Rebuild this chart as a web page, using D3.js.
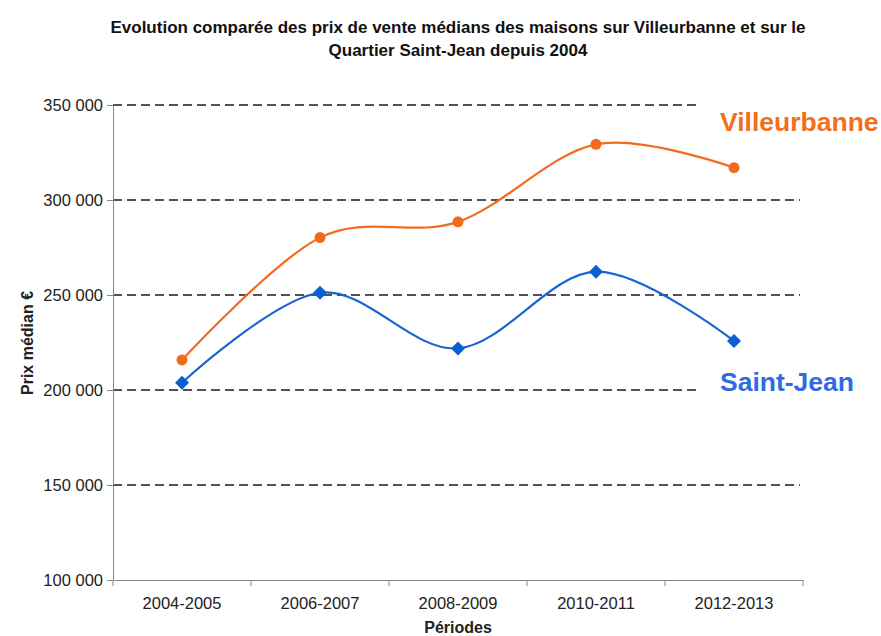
<!DOCTYPE html>
<html>
<head>
<meta charset="utf-8">
<script src="https://cdn.jsdelivr.net/npm/d3@7"></script>
<style>
  html, body { margin: 0; padding: 0; background: #fff; }
  svg { display: block; font-family: "Liberation Sans", Arial, sans-serif; }
</style>
</head>
<body>
<svg id="chart" width="881" height="636"></svg>
<script>
// Périodes (axe des abscisses)
const periods = ["2004-2005", "2006-2007", "2008-2009", "2010-2011", "2012-2013"];
// Prix de vente médians des maisons (€)
const villeurbanne = [215800, 280200, 288500, 329300, 317000];
const saintJean = [203800, 251200, 221900, 262300, 225800];
// Graduations de l'axe des ordonnées
const yTicks = [100000, 150000, 200000, 250000, 300000, 350000];

const svg = d3.select("#chart");
const margin = { left: 113, right: 78, top: 105, bottom: 56 };
const W = 881, H = 636;
const FONT = "'Liberation Sans', Arial, sans-serif";

const x = d3.scaleBand().domain(periods).range([margin.left, W - margin.right]);
const y = d3.scaleLinear().domain([100000, 350000]).range([H - margin.bottom, margin.top]);
const cx = d => x(d) + x.bandwidth() / 2;

const fmt = v => d3.format(",")(v).replace(/,/g, " ");

// Titre
const title = svg.append("text")
  .attr("x", 458).attr("y", 33)
  .attr("text-anchor", "middle")
  .attr("font-size", 17).attr("font-weight", "bold").attr("fill", "#111");
title.append("tspan").attr("x", 458).text("Evolution comparée des prix de vente médians des maisons sur Villeurbanne et sur le");
title.append("tspan").attr("x", 458).attr("dy", 23).text("Quartier Saint-Jean depuis 2004");

// Lignes de quadrillage pointillées
svg.append("g")
  .selectAll("line")
  .data(yTicks.filter(v => v > 100000))
  .join("line")
  .attr("x1", margin.left).attr("x2", 800)
  .attr("y1", d => y(d)).attr("y2", d => y(d))
  .attr("stroke", "#1a1a1a").attr("stroke-width", 1.7)
  .attr("stroke-dasharray", "9,5");

// Axe des ordonnées
const yAxis = svg.append("g")
  .attr("transform", `translate(${margin.left},0)`)
  .call(d3.axisLeft(y).tickValues(yTicks).tickFormat(fmt).tickSize(6).tickPadding(4).tickSizeOuter(0));
yAxis.select(".domain").attr("stroke", "#888");
yAxis.selectAll(".tick line").attr("stroke", "#888");
yAxis.selectAll(".tick text").attr("font-size", 16.5).attr("fill", "#222")
  .attr("font-family", FONT);

// Axe des abscisses
const xAxis = svg.append("g")
  .attr("transform", `translate(0,${y(100000)})`)
  .call(d3.axisBottom(x).tickSize(0).tickPadding(17));
xAxis.select(".domain").attr("stroke", "#888");
xAxis.selectAll(".tick text").attr("font-size", 16.5).attr("fill", "#222")
  .attr("font-family", FONT);
// Marques de séparation entre catégories
svg.append("g")
  .selectAll("line")
  .data(periods.map(p => x(p)).concat([x(periods[periods.length - 1]) + x.bandwidth()]))
  .join("line")
  .attr("x1", d => d).attr("x2", d => d)
  .attr("y1", y(100000)).attr("y2", y(100000) + 6)
  .attr("stroke", "#888");

// Titres des axes
svg.append("text")
  .attr("x", 458).attr("y", 633)
  .attr("text-anchor", "middle")
  .attr("font-size", 16).attr("font-weight", "bold").attr("fill", "#222")
  .text("Périodes");
svg.append("text")
  .attr("transform", `translate(33,343) rotate(-90)`)
  .attr("text-anchor", "middle")
  .attr("font-size", 16).attr("font-weight", "bold").attr("fill", "#222")
  .text("Prix médian €");

// Courbes lissées
const line = d3.line()
  .x((d, i) => cx(periods[i]))
  .y(d => y(d))
  .curve(d3.curveCatmullRom.alpha(0));

const orange = "#f26a1c";
const blue = "#1a64d2";

svg.append("path").datum(villeurbanne)
  .attr("d", line).attr("fill", "none")
  .attr("stroke", orange).attr("stroke-width", 2.2);
svg.append("path").datum(saintJean)
  .attr("d", line).attr("fill", "none")
  .attr("stroke", blue).attr("stroke-width", 2.2);

// Marqueurs
svg.append("g").selectAll("circle")
  .data(villeurbanne)
  .join("circle")
  .attr("cx", (d, i) => cx(periods[i]))
  .attr("cy", d => y(d))
  .attr("r", 5.5)
  .attr("fill", orange);

svg.append("g").selectAll("path")
  .data(saintJean)
  .join("path")
  .attr("d", d3.symbol().type(d3.symbolSquare).size(98))
  .attr("transform", (d, i) => `translate(${cx(periods[i])},${y(d)}) rotate(45)`)
  .attr("fill", "#0b5fd0");

// Étiquettes des séries
svg.append("rect").attr("x", 701).attr("y", 95).attr("width", 180).attr("height", 45).attr("fill", "#fff");
svg.append("text")
  .attr("x", 720).attr("y", 131)
  .attr("font-size", 26.5).attr("font-weight", "bold").attr("fill", "#f07020")
  .text("Villeurbanne");

svg.append("rect").attr("x", 701).attr("y", 365).attr("width", 180).attr("height", 35).attr("fill", "#fff");
svg.append("text")
  .attr("x", 720).attr("y", 391)
  .attr("font-size", 26.5).attr("font-weight", "bold").attr("fill", "#2f6be0")
  .text("Saint-Jean");
</script>
</body>
</html>
